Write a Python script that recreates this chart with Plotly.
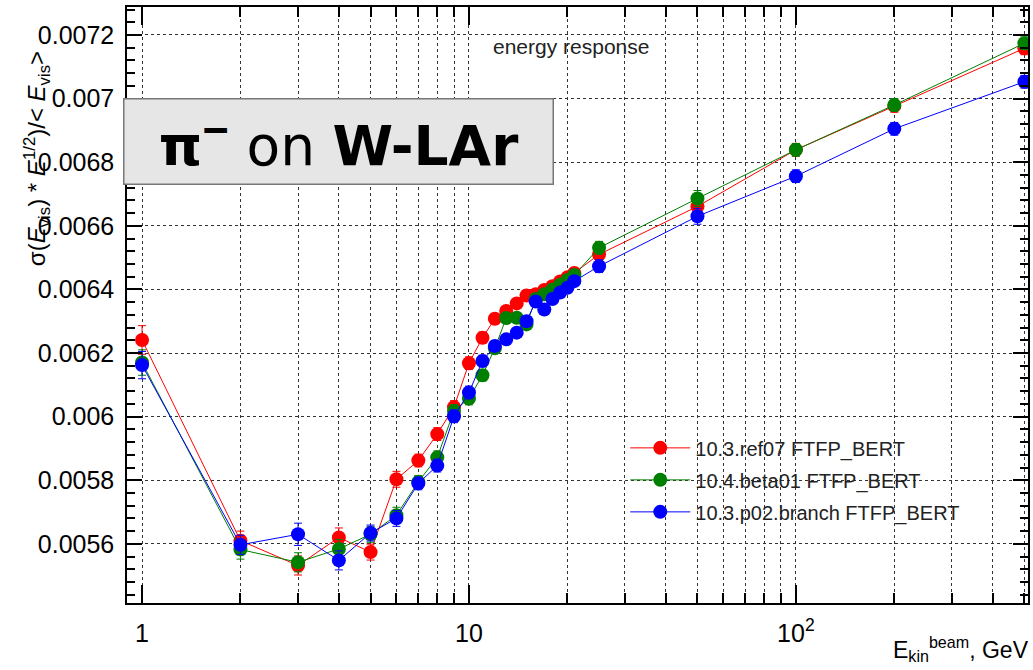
import plotly.graph_objects as go

energy = [1, 2, 3, 4, 5, 6, 7, 8, 9, 10, 11, 12, 13, 14, 15, 16, 17, 18, 19, 20, 21, 25, 50, 100, 200, 500]

ref07 = [0.006241, 0.005610, 0.005532, 0.005620, 0.005574, 0.005803, 0.005862, 0.005945, 0.006030, 0.006168,
         0.006248, 0.006308, 0.006332, 0.006356, 0.006381, 0.006385, 0.006398, 0.006410, 0.006425, 0.006438,
         0.006452, 0.006510, 0.006661, 0.006839, 0.006977, 0.007158]
ref07_err = [0.000045, 0.00003, 0.00003, 0.00003, 0.000025, 0.000025, 0.00002, 0.00002, 0.00002, 0.00002,
             0.000018, 0.000016, 0.000015, 0.000015, 0.000015, 0.000015, 0.000015, 0.000015, 0.000015, 0.000015,
             0.000015, 0.00002, 0.000025, 0.00002, 0.00002, 0.00002]

beta01 = [0.006170, 0.005582, 0.005542, 0.005584, 0.005630, 0.005690, 0.005795, 0.005872, 0.006018, 0.006057,
          0.006130, 0.006215, 0.006310, 0.006311, 0.006290, 0.006370, 0.006385, 0.006400, 0.006415, 0.006430,
          0.006445, 0.006531, 0.006686, 0.006839, 0.006980, 0.007174]
beta01_err = [0.00004, 0.00003, 0.00003, 0.00003, 0.000025, 0.000025, 0.00002, 0.00002, 0.00002, 0.00002,
              0.000018, 0.000016, 0.000015, 0.000015, 0.000015, 0.000015, 0.000015, 0.000015, 0.000015, 0.000015,
              0.000015, 0.00002, 0.000025, 0.00002, 0.00002, 0.00002]

p02 = [0.006162, 0.005597, 0.005630, 0.005548, 0.005634, 0.005680, 0.005790, 0.005846, 0.006001, 0.006076,
       0.006175, 0.006222, 0.006243, 0.006264, 0.006300, 0.006362, 0.006337, 0.006370, 0.006390, 0.006405,
       0.006426, 0.006473, 0.006630, 0.006756, 0.006905, 0.007053]
p02_err = [0.000043, 0.00003, 0.000035, 0.00003, 0.000025, 0.000025, 0.00002, 0.00002, 0.00002, 0.00002,
           0.000018, 0.000016, 0.000015, 0.000015, 0.000015, 0.000015, 0.000015, 0.000015, 0.000015, 0.000015,
           0.000015, 0.00002, 0.000025, 0.00002, 0.00002, 0.00002]

series_names = ["10.3.ref07 FTFP_BERT", "10.4.beta01 FTFP_BERT", "10.3.p02.branch FTFP_BERT"]
series_colors = ["#ff0000", "#008000", "#0000ff"]

y_tick_labels = ["0.0056", "0.0058", "0.006", "0.0062", "0.0064", "0.0066", "0.0068", "0.007", "0.0072"]
x_major = [1, 10, 100]
x_major_text = ["1", "10", "10<sup>2</sup>"]
x_minor = [2, 3, 4, 5, 6, 7, 8, 9, 20, 30, 40, 50, 60, 70, 80, 90, 200, 300, 400, 500]

fig = go.Figure()
for name, color, ys, errs in zip(series_names, series_colors, [ref07, beta01, p02], [ref07_err, beta01_err, p02_err]):
    fig.add_trace(go.Scatter(
        x=energy, y=ys, name=name, mode="lines+markers",
        line=dict(color=color, width=1),
        marker=dict(color=color, size=14, symbol="circle"),
        error_y=dict(type="data", array=errs, visible=True, color=color, thickness=1, width=4),
        legendgroup=name,
    ))

fig.update_layout(
    width=1033, height=670,
    margin=dict(l=127, r=3, t=7, b=67),
    paper_bgcolor="white", plot_bgcolor="white",
    font=dict(family="Liberation Sans, Arial, sans-serif", color="black"),
    showlegend=True,
    legend=dict(x=0.553, y=0.293, xanchor="left", yanchor="top",
                font=dict(size=20, color="#222"), bgcolor="rgba(0,0,0,0)",
                tracegroupgap=3, itemwidth=60),
)

fig.update_xaxes(
    type="log", range=[-0.046, 2.71],
    tickmode="array", tickvals=x_major, ticktext=x_major_text,
    ticks="inside", ticklen=18, tickwidth=1.5, tickcolor="black",
    showline=True, linecolor="black", linewidth=1.5, mirror="allticks",
    showgrid=True, gridcolor="#333", griddash="dot", gridwidth=1,
    tickfont=dict(size=25), ticklabelstandoff=7,
    minor=dict(tickmode="array", tickvals=x_minor, ticks="inside", ticklen=10, tickwidth=1.5,
               tickcolor="black", showgrid=True, gridcolor="#333", griddash="dot", gridwidth=1),
    zeroline=False,
)

fig.update_yaxes(
    range=[0.005414, 0.007288],
    tickmode="array", tickvals=[float(t) for t in y_tick_labels], ticktext=y_tick_labels,
    ticks="inside", ticklen=15, tickwidth=1.5, tickcolor="black",
    showline=True, linecolor="black", linewidth=1.5, mirror="allticks",
    showgrid=True, gridcolor="#333", griddash="dot", gridwidth=1,
    tickfont=dict(size=25), ticklabelstandoff=6,
    minor=dict(dtick=0.00004, tick0=0.0056, ticks="inside", ticklen=8, tickwidth=1.5,
               tickcolor="black", showgrid=False),
    zeroline=False,
)

fig.add_annotation(
    xref="paper", yref="paper", x=-0.0997, y=0.745, xanchor="center", yanchor="middle",
    text="σ(<i>E</i><sub>vis</sub>) * <i>E</i><sup>1/2</sup>)/&lt; <i>E</i><sub>vis</sub>&gt;",
    textangle=-90, showarrow=False, font=dict(size=24, color="black"),
)

fig.add_annotation(
    xref="paper", yref="paper", x=1.003, y=-0.077, xanchor="right", yanchor="middle",
    text="E<sub>kin</sub><sup>beam</sup>, GeV", showarrow=False, font=dict(size=23, color="black"),
)

fig.add_annotation(
    xref="paper", yref="paper", x=0.404, y=0.933, xanchor="left", yanchor="middle",
    text="energy response", showarrow=False, font=dict(size=21, color="#222"),
)

fig.add_annotation(
    xref="paper", yref="paper", x=0.2348, y=0.775, xanchor="center", yanchor="middle",
    text="<b>π</b><sup><b>‒</b></sup> on <b>W-LAr</b>", showarrow=False,
    font=dict(family="DejaVu Sans", size=55, color="black"),
    bgcolor="#e6e6e6", bordercolor="#777", borderwidth=1.5, borderpad=0,
    width=428, height=84,
)

fig.write_html("out.html")
